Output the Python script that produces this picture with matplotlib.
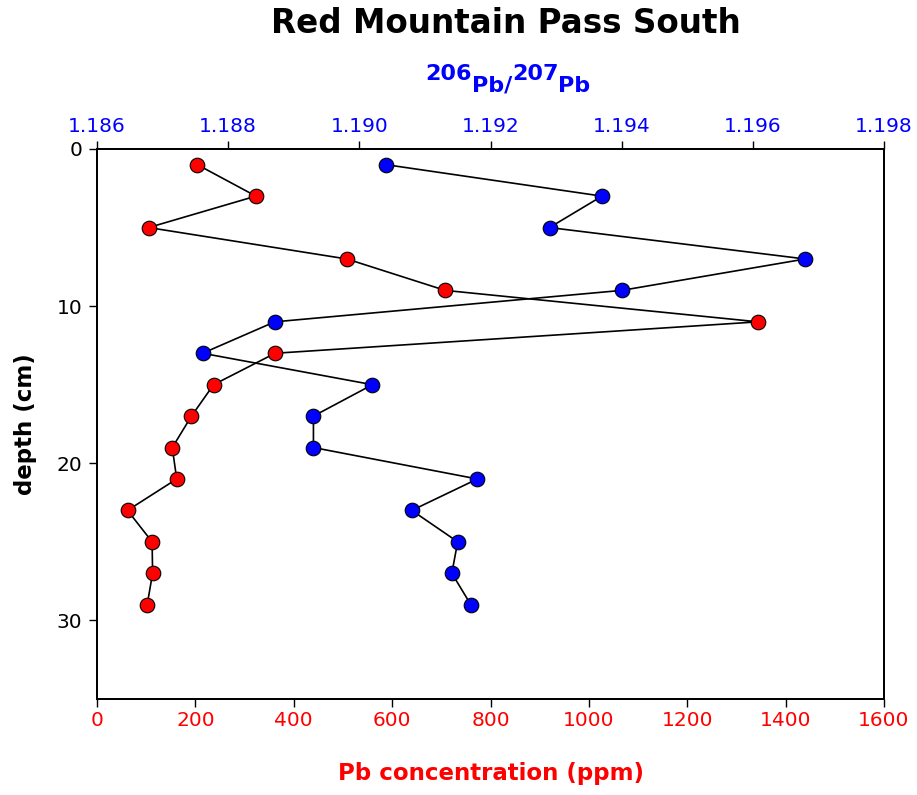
import matplotlib
matplotlib.use('Agg')
import matplotlib.pyplot as plt
from matplotlib.ticker import FormatStrFormatter

# depth profile, Red Mountain Pass South
depth = [1, 3, 5, 7, 9, 11, 13, 15, 17, 19, 21, 23, 25, 27, 29]
pb_ppm = [204, 323, 105, 508, 708, 1344, 362, 237, 192, 153, 162, 62, 112, 113, 102]
pb_ratio = [1.19041, 1.19370, 1.19290, 1.19680, 1.19400, 1.18871, 1.18761, 1.19020,
            1.18930, 1.18930, 1.19180, 1.19080, 1.19150, 1.19141, 1.19170]

ppm_ticks = list(range(0, 1601, 200))
ratio_ticks = [1.186, 1.188, 1.190, 1.192, 1.194, 1.196, 1.198]
depth_ticks = [0, 10, 20, 30]

red = '#ff0000'
blue = '#0000ff'

fig = plt.figure(figsize=(9.17, 7.95), dpi=100)
ax = fig.add_axes([0.1058, 0.1208, 0.8582, 0.6918])
ax2 = ax.twiny()

# lead concentration (bottom axis)
ax.plot(pb_ppm, depth, color='black', lw=1.2, marker='o', ms=10.5,
        mfc=red, mec='black', mew=0.8, zorder=3)
# isotope ratio (top axis)
ax2.plot(pb_ratio, depth, color='black', lw=1.2, marker='o', ms=10.5,
         mfc=blue, mec='black', mew=0.8, zorder=3)

ax.set_ylim(35, 0)
ax.set_yticks(depth_ticks)
ax.set_xlim(0, 1600)
ax.set_xticks(ppm_ticks)
ax2.set_xlim(1.186, 1.198)
ax2.set_xticks(ratio_ticks)
ax2.xaxis.set_major_formatter(FormatStrFormatter('%.3f'))

for a in (ax, ax2):
    for s in a.spines.values():
        s.set_linewidth(1.3)

ax.tick_params(axis='x', direction='out', length=5.5, width=1.0, labelsize=14.5,
               labelcolor=red, pad=3)
ax.tick_params(axis='y', direction='out', length=5.5, width=1.0, labelsize=14.5,
               pad=5, right=False)
ax2.tick_params(axis='x', direction='out', length=5.5, width=1.0, labelsize=14.5,
                labelcolor=blue, pad=4)

ax.set_xlabel('Pb concentration (ppm)', color=red, fontsize=16.5, fontweight='bold')
ax.xaxis.set_label_coords(0.5, -0.114)
ax.set_ylabel('depth (cm)', fontsize=16.5, fontweight='bold')
ax.yaxis.set_label_coords(-0.076, 0.5)

fig.text(0.552, 0.9589, 'Red Mountain Pass South', ha='center', va='baseline',
         fontsize=23.5, fontweight='bold')

# top axis label 206Pb/207Pb with full-size raised mass numbers
lab = dict(color=blue, fontsize=16, fontweight='bold')
t = fig.text(0.4635, 0.8994, '206', va='baseline', ha='left', **lab)
for piece, dy in [('Pb/', -8.4), ('207', 8.4), ('Pb', -8.4)]:
    t = ax.annotate(piece, xy=(1, 0), xycoords=t, xytext=(0, dy),
                    textcoords='offset points', ha='left', va='bottom', **lab)

fig.savefig('out.png', dpi=100)
